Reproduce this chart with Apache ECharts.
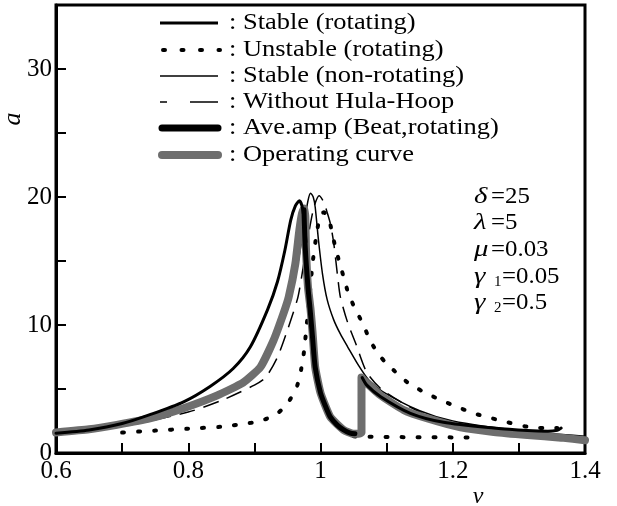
<!DOCTYPE html>
<html>
<head>
<meta charset="UTF-8">
<title></title>
<style type="text/css">
html, body { margin: 0; padding: 0; background: #fff; }
#main { width: 617px; height: 506px; }
</style>
</head>
<body>
<div id="main"></div>
<script type="text/javascript" src="https://cdn.jsdelivr.net/npm/echarts@6/dist/echarts.min.js"></script>
<script>
// tick labels shown on the axes
var xLabels = ['0.6', '0.8', '1', '1.2', '1.4'];
var yLabels = ['0', '10', '20', '30'];

// curves, [nu, a]
var stableRotLeft = [[0.6,1.55],[0.65,1.8],[0.7,2.3],[0.742,3.0],[0.793,4.0],[0.833,5.2],[0.868,6.6],[0.894,8.3],
  [0.92,11.2],[0.935,13.4],[0.946,15.8],[0.955,18.2],[0.962,19.3],[0.968,19.7],[0.972,19.3],[0.975,18.3],[0.978,16.5]];
var stableRotRight = [[1.063,5.9],[1.07,5.3],[1.091,4.4],[1.136,3.1],[1.186,2.4],[1.262,1.95],[1.313,1.75],[1.344,1.7],[1.358,1.78],[1.364,1.95]];
var unstableRot = [[0.70,1.6],[0.75,1.75],[0.80,1.9],[0.85,2.05],[0.88,2.25],[0.909,2.5],[0.935,3.1],[0.953,4.1],[0.965,5.3],
  [0.971,6.6],[0.975,7.9],[0.978,9.4],[0.983,12.0],[0.988,14.8],[0.995,17.4],[1.0,18.6],[1.005,18.8],[1.01,18.5],[1.015,17.8],
  [1.021,16.4],[1.027,15.2],[1.035,13.75],[1.042,12.5],[1.052,11.3],[1.064,10.1],[1.076,8.7],[1.091,7.5],[1.11,6.5],[1.132,5.5],
  [1.155,4.8],[1.179,4.2],[1.207,3.6],[1.232,3.1],[1.26,2.7],[1.283,2.4],[1.313,2.05],[1.338,1.95],[1.358,1.95]];
var unstableLow = [[1.05,1.3],[1.1,1.25],[1.15,1.23],[1.2,1.22],[1.235,1.2]];
var stableNonRot = [[0.6,1.6],[0.7,2.2],[0.8,3.5],[0.85,4.6],[0.9,6.2],[0.93,8.8],[0.95,11.4],[0.965,14.6],[0.975,17.8],
  [0.981,19.7],[0.985,20.3],[0.989,20.0],[0.992,19.2],[0.997,16.6],[1.003,14.0],[1.01,12.0],[1.02,10.4],[1.03,9.3],[1.041,8.3],
  [1.058,6.8],[1.073,5.7],[1.094,4.8],[1.15,3.3],[1.2,2.5],[1.3,1.75],[1.4,1.3]];
var noHoop = [[0.6,1.6],[0.7,2.1],[0.8,3.2],[0.85,4.1],[0.9,5.3],[0.917,5.9],[0.935,7.5],[0.95,9.6],[0.965,12.0],[0.97,13.3],
  [0.98,16.5],[0.99,19.2],[0.998,20.1],[1.005,19.6],[1.01,18.8],[1.015,17.9],[1.02,16.4],[1.026,13.75],[1.03,12.2],
  [1.041,10.2],[1.053,8.6],[1.07,6.3],[1.094,4.9],[1.15,3.2],[1.2,2.4],[1.3,1.6],[1.4,1.2]];
var aveAmp = [[0.975,19.0],[0.977,16.0],[0.981,13.0],[0.985,10.8],[0.988,9.0],[0.992,6.7],[1.0,4.7],[1.008,3.6],[1.015,2.8],
  [1.025,2.2],[1.035,1.8],[1.045,1.55],[1.052,1.5]];
var operating = [[0.6,1.6],[0.65,1.85],[0.692,2.2],[0.742,2.7],[0.793,3.5],[0.844,4.5],[0.883,5.5],[0.909,6.7],[0.929,8.8],
  [0.944,10.9],[0.952,12.2],[0.962,14.8],[0.968,17.4],[0.972,18.7],[0.975,19.1],[0.977,18.5],[0.978,16.0],[0.981,13.0],
  [0.985,11.2],[0.988,9.4],[0.992,6.7],[1.0,4.7],[1.015,2.8],[1.035,1.8],[1.05,1.5],[1.058,1.5],[1.062,1.6],[1.062,5.9],
  [1.065,5.7],[1.091,4.5],[1.126,3.35],[1.162,2.7],[1.212,2.0],[1.262,1.64],[1.313,1.4],[1.364,1.2],[1.4,1.0]];

var legendNames = [': Stable (rotating)', ': Unstable (rotating)', ': Stable (non-rotating)',
  ': Without Hula-Hoop', ': Ave.amp (Beat,rotating)', ': Operating curve'];

var serif = "'Liberation Serif', 'Times New Roman', 'DejaVu Serif', serif";
var gray = '#6e6e6e';

function line(data, color, width, type, cap, smooth) {
  return {
    type: 'line',
    data: data,
    symbol: 'none',
    showSymbol: false,
    smooth: smooth === undefined ? 0.25 : smooth,
    silent: true,
    lineStyle: { color: color, width: width, type: type || 'solid', cap: cap || 'round', join: 'round' }
  };
}

var myChart = echarts.init(document.getElementById('main'));

var legendY = [23, 50, 76, 102, 128, 155];
var graphics = [
  { type: 'line', shape: { x1: 160, y1: legendY[0], x2: 218, y2: legendY[0] }, style: { stroke: '#000', lineWidth: 3 } },
  { type: 'line', shape: { x1: 163, y1: legendY[1], x2: 220, y2: legendY[1] }, style: { stroke: '#000', lineWidth: 4, lineCap: 'round', lineDash: [2, 16.5] } },
  { type: 'line', shape: { x1: 160, y1: legendY[2], x2: 218, y2: legendY[2] }, style: { stroke: '#000', lineWidth: 1.5 } },
  { type: 'line', shape: { x1: 160, y1: legendY[3], x2: 167, y2: legendY[3] }, style: { stroke: '#000', lineWidth: 1.5 } },
  { type: 'line', shape: { x1: 190, y1: legendY[3], x2: 218, y2: legendY[3] }, style: { stroke: '#000', lineWidth: 1.5 } },
  { type: 'line', shape: { x1: 162, y1: legendY[4], x2: 218, y2: legendY[4] }, style: { stroke: '#000', lineWidth: 7, lineCap: 'round' } },
  { type: 'line', shape: { x1: 162, y1: legendY[5], x2: 218, y2: legendY[5] }, style: { stroke: gray, lineWidth: 8, lineCap: 'round' } },
  { type: 'text', x: 478, y: 497, style: { text: 'ν', fontSize: 24, fontStyle: 'italic', fontFamily: serif, fill: '#000', align: 'center', verticalAlign: 'middle' } }
];
for (var i = 0; i < legendNames.length; i++) {
  graphics.push({ type: 'text', x: 229, y: legendY[i], scaleX: 1.15,
    style: { text: legendNames[i], fontSize: 23, fontFamily: serif, fill: '#000', verticalAlign: 'middle' } });
}

// parameter box
var params = [['δ', '', '=25'], ['λ', '', '=5'], ['μ', '', '=0.03'], ['γ', '1', '=0.05'], ['γ', '2', '=0.5']];
var paramY = [197, 223, 250, 277, 303];
for (var j = 0; j < params.length; j++) {
  graphics.push({ type: 'text', x: 474, y: paramY[j], scaleX: 1.2,
    style: { text: params[j][0], fontSize: 24, fontStyle: 'italic', fontFamily: serif, fill: '#000', verticalAlign: 'middle' } });
  if (params[j][1]) {
    graphics.push({ type: 'text', x: 494, y: paramY[j] + 5, style: { text: params[j][1], fontSize: 15, fontFamily: serif, fill: '#000', verticalAlign: 'middle' } });
  }
  graphics.push({ type: 'text', x: params[j][1] ? 502 : 491, y: paramY[j], scaleX: 1.08,
    style: { text: params[j][2], fontSize: 23, fontFamily: serif, fill: '#000', verticalAlign: 'middle' } });
}

var option = {
  animation: false,
  backgroundColor: '#fff',
  grid: { left: 56, right: 32, top: 5, bottom: 53, show: true, borderColor: '#000', borderWidth: 3, outerBoundsMode: 'none', containLabel: false },
  xAxis: {
    type: 'value', min: 0.6, max: 1.4, interval: 0.1,
    axisLine: { show: true, onZero: false, lineStyle: { color: '#000', width: 3 } },
    axisTick: { show: true, inside: true, length: 10, lineStyle: { color: '#000', width: 2 } },
    axisLabel: {
      color: '#000', fontSize: 25, fontFamily: serif, margin: 6,
      formatter: function (v) { var s = String(Math.round(v * 10) / 10); return xLabels.indexOf(s) >= 0 ? s : ''; }
    },
    splitLine: { show: false }
  },
  yAxis: {
    type: 'value', min: 0, max: 35, interval: 5,
    name: 'a', nameLocation: 'middle', nameRotate: 90, nameGap: 30, nameMoveOverlap: false,
    nameTextStyle: { color: '#000', fontSize: 26, fontStyle: 'italic', fontFamily: serif, padding: [0, 0, 0, 220] },
    axisLine: { show: true, lineStyle: { color: '#000', width: 3 } },
    axisTick: { show: true, inside: true, length: 10, lineStyle: { color: '#000', width: 2 } },
    axisLabel: {
      color: '#000', fontSize: 25, fontFamily: serif, margin: 4,
      formatter: function (v) { var s = String(v); return yLabels.indexOf(s) >= 0 ? s : ''; }
    },
    splitLine: { show: false }
  },
  series: [
    line(noHoop, '#000', 1.5, [16, 9], 'butt'),
    line(stableNonRot, '#000', 1.5),
    line(unstableRot, '#000', 4, [2, 14], 'round'),
    line(unstableLow, '#000', 4, [2, 14], 'round', false),
    line(operating, gray, 8, 'solid', 'round', 0.15),
    line(aveAmp, '#000', 5),
    line(stableRotLeft, '#000', 3),
    line(stableRotRight, '#000', 3)
  ],
  graphic: graphics
};
myChart.setOption(option);
</script>
</body>
</html>
